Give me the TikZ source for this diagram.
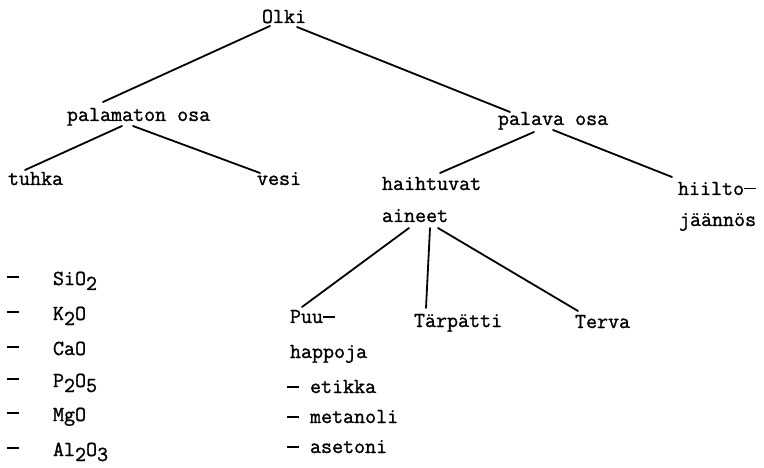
\documentclass[tikz,border=0pt]{standalone}
\usepackage{fontspec}
\setmonofont{Latin Modern Mono}[FakeBold=1.2]
\usetikzlibrary{calc}
% lowered full-size digit for the oxide formulas
\newcommand{\dn}[1]{\raisebox{-5pt}{#1}}
% typewriter-style dash, a bar filling the character cell
\newcommand{\twdash}{\raisebox{5.5pt}{\rule{12pt}{1.7pt}}}
\begin{document}
\begin{tikzpicture}[x=1pt,y=-1pt,
  lbl/.style={anchor=base west,inner sep=0pt,outer sep=0pt,
              font=\fontsize{21.4}{25}\ttfamily},
  edge/.style={line width=1.8pt,line cap=round}]
\useasboundingbox (0,0) rectangle (764,468);

% tree labels
\node[lbl] (olki)      at (262,23)  {Olki};
\node[lbl] (palamaton) at (67,121)  {palamaton osa};
\node[lbl] (tuhka)     at (8,185)   {tuhka};
\node[lbl] (vesi)      at (257,185) {vesi};
\node[lbl] (palava)    at (498,125) {palava osa};
\node[lbl] (haihtuvat) at (382,190) {haihtuvat};
\node[lbl] (aineet)    at (382,222) {aineet};
\node[lbl] (hiilto)    at (678,195) {hiilto\twdash};
\node[lbl] (jaannos)   at (679,226) {jäännös};
\node[lbl] (puu)       at (290,323) {Puu\twdash};
\node[lbl] (tarpatti)  at (414,327) {Tärpätti};
\node[lbl] (terva)     at (575,328) {Terva};
\node[lbl] (happoja)   at (290,358) {happoja};
\node[lbl] (etikka)    at (287,393) {\twdash\ etikka};
\node[lbl] (metanoli)  at (287,423) {\twdash\ metanoli};
\node[lbl] (asetoni)   at (287,453) {\twdash\ asetoni};

% ash components
\foreach \y/\f [count=\i] in {285/SiO\dn{2},320/K\dn{2}O,355/CaO,
                             387/P\dn{2}O\dn{5},421/MgO,456/Al\dn{2}O\dn{3}}{
  \node[lbl] (d\i) at (7,\y)  {\raisebox{1.5pt}{\twdash}};
  \node[lbl] (c\i) at (53,\y) {\f};
}

% connectors
\draw[edge] ($(olki.base west)+(8,3)$)       -- ($(palamaton.base west)+(36,-19)$);
\draw[edge] ($(olki.base west)+(35,4)$)      -- ($(palava.base west)+(12,-13)$);
\draw[edge] ($(palamaton.base west)+(55,5)$) -- ($(tuhka.base west)+(17,-15)$);
\draw[edge] ($(palamaton.base west)+(66,5)$) -- ($(vesi.base west)+(3,-12)$);
\draw[edge] ($(palava.base west)+(36,7)$)    -- ($(haihtuvat.base west)+(58,-17)$);
\draw[edge] ($(palava.base west)+(55,5)$)    -- ($(hiilto.base west)+(-6,-18)$);
\draw[edge] ($(aineet.base west)+(27,6)$)    -- ($(puu.base west)+(12,-16)$);
\draw[edge] ($(aineet.base west)+(48,6)$)    -- ($(tarpatti.base west)+(12,-19)$);
\draw[edge] ($(aineet.base west)+(56,6)$)    -- ($(terva.base west)+(3,-17)$);
\end{tikzpicture}
\end{document}
